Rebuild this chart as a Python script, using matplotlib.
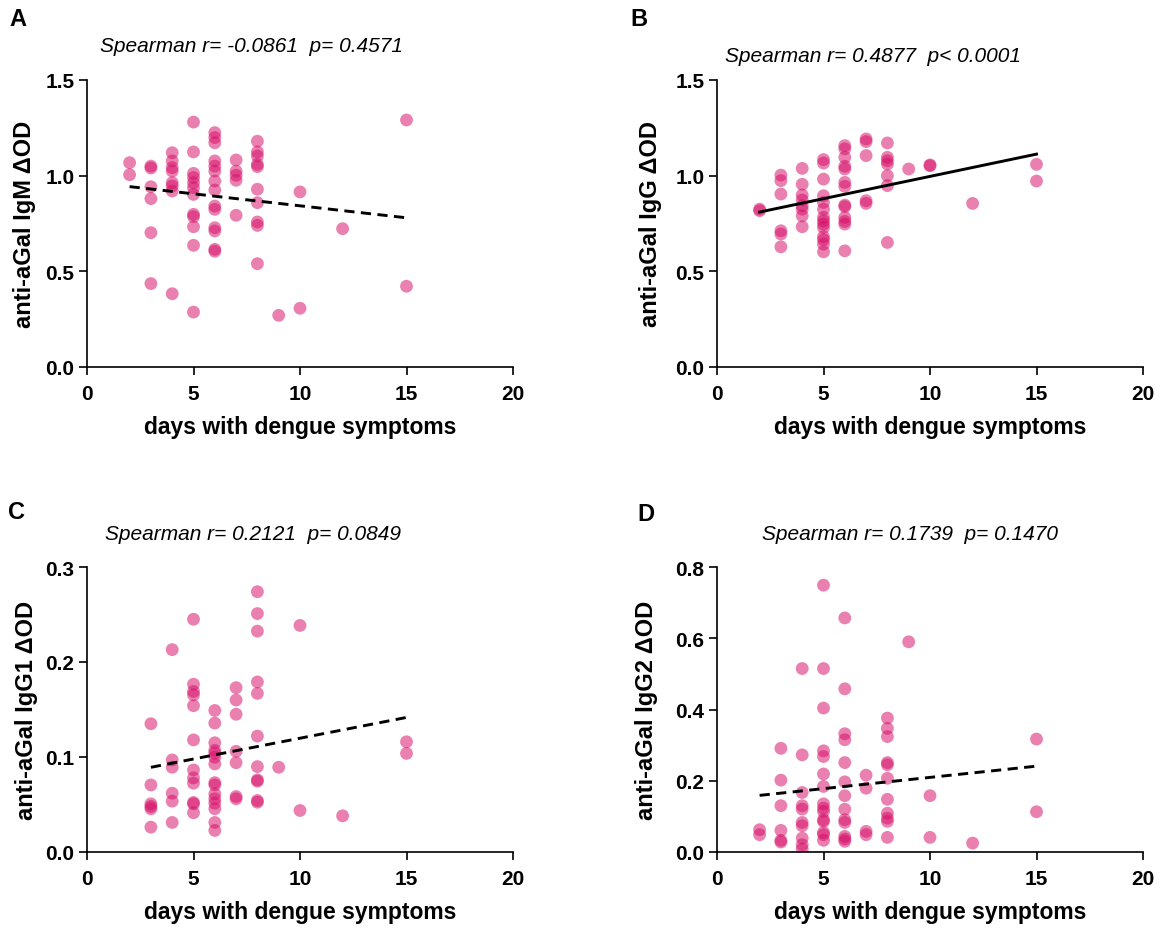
import matplotlib
matplotlib.use('Agg')
import matplotlib.pyplot as plt
import numpy as np

plt.rcParams['font.family'] = ['Liberation Sans', 'DejaVu Sans']

# panel A: IgM
days_a = [2, 2,
          3, 3, 3, 3, 3, 3,
          4, 4, 4, 4, 4, 4, 4, 4,
          5, 5, 5, 5, 5, 5, 5, 5, 5, 5, 5, 5,
          6, 6, 6, 6, 6, 6, 6, 6, 6, 6, 6, 6, 6, 6,
          7, 7, 7, 7, 7,
          8, 8, 8, 8, 8, 8, 8, 8, 8, 8,
          9, 10, 10, 12, 15, 15]
igm = [1.068, 1.005,
       1.05, 1.04, 0.942, 0.88, 0.702, 0.436,
       1.12, 1.077, 1.042, 1.024, 0.963, 0.946, 0.92, 0.383,
       1.28, 1.124, 1.012, 0.99, 0.963, 0.937, 0.902, 0.798, 0.786, 0.733, 0.636, 0.287,
       1.225, 1.199, 1.172, 1.077, 1.05, 1.024, 0.972, 0.925, 0.841, 0.824, 0.728, 0.711, 0.615, 0.605,
       1.082, 1.024, 1.002, 0.976, 0.793,
       1.18, 1.124, 1.103, 1.059, 1.047, 0.929, 0.859, 0.758, 0.74, 0.54,
       0.27, 0.915, 0.307, 0.723, 1.291, 0.422]

# panel B: IgG
days_b = [2, 2,
          3, 3, 3, 3, 3, 3,
          4, 4, 4, 4, 4, 4, 4, 4,
          5, 5, 5, 5, 5, 5, 5, 5, 5, 5, 5, 5, 5, 5,
          6, 6, 6, 6, 6, 6, 6, 6, 6, 6, 6, 6, 6,
          7, 7, 7, 7, 7,
          8, 8, 8, 8, 8, 8, 8,
          9, 10, 10, 12, 15, 15]
igg = [0.825, 0.817,
       1.003, 0.974, 0.904, 0.712, 0.695, 0.628,
       1.038, 0.955, 0.899, 0.873, 0.843, 0.825, 0.79, 0.733,
       1.084, 1.066, 0.982, 0.895, 0.86, 0.825, 0.782, 0.764, 0.747, 0.729, 0.681, 0.665, 0.642, 0.602,
       1.157, 1.14, 1.096, 1.049, 1.035, 0.965, 0.944, 0.846, 0.838, 0.782, 0.761, 0.747, 0.607,
       1.192, 1.178, 1.105, 0.869, 0.855,
       1.171, 1.096, 1.078, 1.061, 1.0, 0.948, 0.651,
       1.035, 1.056, 1.052, 0.855, 1.059, 0.972]

# panel C: IgG1
days_c = [3, 3, 3, 3, 3, 3,
          4, 4, 4, 4, 4, 4,
          5, 5, 5, 5, 5, 5, 5, 5, 5, 5, 5, 5,
          6, 6, 6, 6, 6, 6, 6, 6, 6, 6, 6, 6, 6, 6, 6,
          7, 7, 7, 7, 7, 7, 7,
          8, 8, 8, 8, 8, 8, 8, 8, 8, 8, 8,
          9, 10, 10, 12, 15, 15]
igg1 = [0.135, 0.0706, 0.0507, 0.0479, 0.0455, 0.0262,
        0.213, 0.0969, 0.0892, 0.0619, 0.0535, 0.0311,
        0.245, 0.1766, 0.169, 0.1654, 0.154, 0.118, 0.0864, 0.078, 0.0724, 0.0521, 0.0507, 0.0413,
        0.149, 0.1357, 0.115, 0.107, 0.104, 0.0997, 0.0927, 0.073, 0.0706, 0.0612, 0.056, 0.0514,
        0.0455, 0.0311, 0.0227,
        0.173, 0.16, 0.145, 0.106, 0.094, 0.0584, 0.056,
        0.274, 0.251, 0.2325, 0.179, 0.167, 0.122, 0.0899, 0.0759, 0.0745, 0.0542, 0.0524,
        0.0892, 0.2385, 0.0437, 0.0381, 0.116, 0.1038]

# panel D: IgG2
days_d = [2, 2,
          3, 3, 3, 3, 3, 3,
          4, 4, 4, 4, 4, 4, 4, 4, 4, 4,
          5, 5, 5, 5, 5, 5, 5, 5, 5, 5, 5, 5, 5, 5, 5,
          6, 6, 6, 6, 6, 6, 6, 6, 6, 6, 6, 6, 6,
          7, 7, 7, 7,
          8, 8, 8, 8, 8, 8, 8, 8, 8, 8, 8,
          9, 10, 10, 12, 15, 15]
igg2 = [0.0626, 0.0486,
        0.291, 0.2017, 0.13, 0.0607, 0.0327, 0.028,
        0.515, 0.2726, 0.167, 0.13, 0.1204, 0.083, 0.0738, 0.039, 0.0205, 0.0084,
        0.749, 0.515, 0.404, 0.284, 0.268, 0.219, 0.184, 0.135, 0.123, 0.114, 0.0906, 0.0859,
        0.055, 0.0486, 0.0327,
        0.657, 0.458, 0.332, 0.315, 0.251, 0.197, 0.158, 0.12, 0.0906, 0.083, 0.0439, 0.0364, 0.03,
        0.2157, 0.179, 0.058, 0.0486,
        0.376, 0.347, 0.324, 0.251, 0.245, 0.207, 0.148, 0.109, 0.095, 0.086, 0.041,
        0.59, 0.158, 0.041, 0.025, 0.317, 0.113]

letters = ['A', 'B', 'C', 'D']
titles = ['Spearman r= -0.0861  p= 0.4571',
          'Spearman r= 0.4877  p< 0.0001',
          'Spearman r= 0.2121  p= 0.0849',
          'Spearman r= 0.1739  p= 0.1470']
ylabels = ['anti-aGal IgM \u0394OD', 'anti-aGal IgG \u0394OD',
           'anti-aGal IgG1 \u0394OD', 'anti-aGal IgG2 \u0394OD']
yticks = [[0.0, 0.5, 1.0, 1.5], [0.0, 0.5, 1.0, 1.5],
          [0.0, 0.1, 0.2, 0.3], [0.0, 0.2, 0.4, 0.6, 0.8]]
xs = [days_a, days_b, days_c, days_d]
ys = [igm, igg, igg1, igg2]

W, H = 1161, 929
fig = plt.figure(figsize=(W / 100, H / 100), dpi=100)

# axes boxes in pixels: left, top, right, bottom
boxes = [(87, 81, 513, 368), (717, 81, 1143, 368),
         (87, 568, 513, 853), (717, 568, 1143, 853)]
title_pos = [(251, 46), (873, 56), (253, 535), (910, 535)]
letter_pos = [(9, 20), (630, 20), (8, 513), (637, 515)]
ylab_x = [25, 650, 27, 647]
xlab_gap = 60   # px from x axis to xlabel centre
pink = '#D60C66'

for i in range(4):
    l, t, r, b = boxes[i]
    ax = fig.add_axes([l / W, 1 - b / H, (r - l) / W, (b - t) / H])
    x = np.array(xs[i], dtype=float)
    y = np.array(ys[i], dtype=float)
    ax.scatter(x, y, s=85, color=pink, alpha=0.52, edgecolors='none', zorder=2)

    slope, icpt = np.polyfit(x, y, 1)
    xl = np.array([x.min(), x.max()])
    ls = '-' if i == 1 else (0, (3.5, 2.2))
    ax.plot(xl, icpt + slope * xl, color='black', lw=2.1, ls=ls, zorder=3)

    ax.set_xlim(0, 20)
    ax.set_ylim(yticks[i][0], yticks[i][-1])
    ax.set_xticks([0, 5, 10, 15, 20])
    ax.set_yticks(yticks[i])
    ax.set_yticklabels(['%.1f' % v for v in yticks[i]])
    for sp in ['top', 'right']:
        ax.spines[sp].set_visible(False)
    for sp in ['left', 'bottom']:
        ax.spines[sp].set_linewidth(1.2)
    ax.tick_params(direction='out', length=6, width=1.2, labelsize=15)
    ax.tick_params(axis='x', pad=6)
    ax.tick_params(axis='y', pad=3)
    for lab in ax.get_xticklabels() + ax.get_yticklabels():
        lab.set_fontweight('bold')

    ax.set_xlabel('days with dengue symptoms', fontsize=16.5, fontweight='bold')
    ax.xaxis.set_label_coords(0.5, -xlab_gap / (b - t))
    ax.xaxis.label.set_va('center')
    ax.set_ylabel(ylabels[i], fontsize=17, fontweight='bold')
    ax.yaxis.set_label_coords((ylab_x[i] - l) / (r - l), 0.5)
    ax.yaxis.label.set_va('center')

    tx, ty = title_pos[i]
    fig.text(tx / W, 1 - ty / H, titles[i], fontsize=15, style='italic',
             ha='center', va='center')
    lx, ly = letter_pos[i]
    fig.text(lx / W, 1 - ly / H, letters[i], fontsize=17, fontweight='bold',
             ha='left', va='center')

fig.savefig('out.png', dpi=100)
